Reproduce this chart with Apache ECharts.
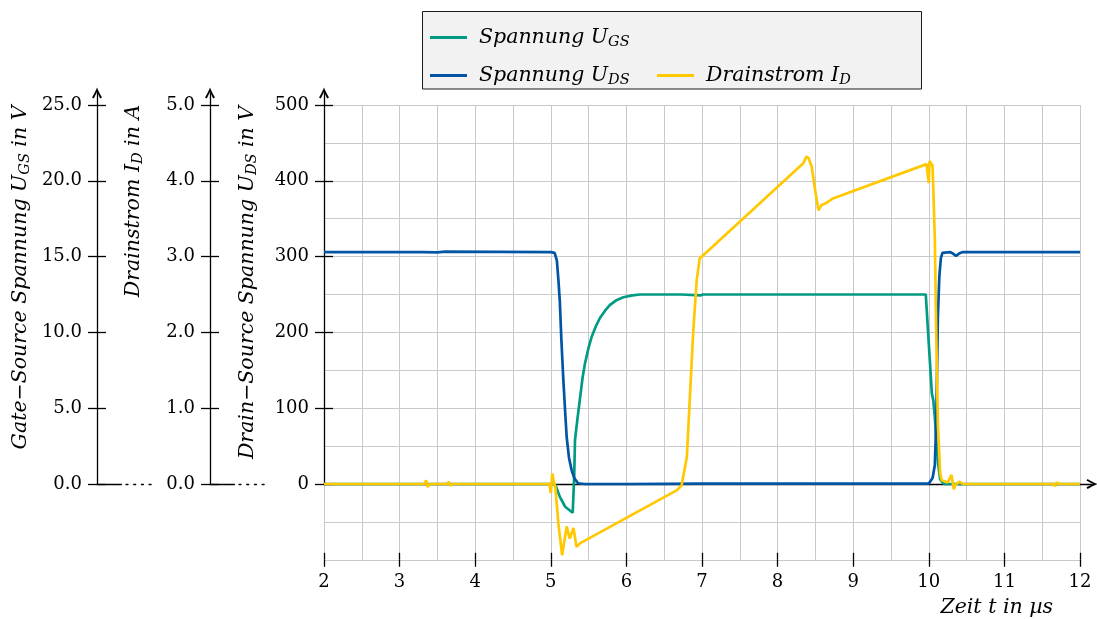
<!DOCTYPE html>
<html>
<head>
<meta charset="utf-8">
<script src="https://cdn.jsdelivr.net/npm/echarts@6/dist/echarts.min.js"></script>
<style>
  html, body { margin: 0; padding: 0; background: #fff; }
  #chart { width: 1097px; height: 619px; }
</style>
</head>
<body>
<div id="chart"></div>
<script>
// Switching transient of a MOSFET: time in µs
// Gate-source voltage U_GS in V
const ugs = [
  [2, 0], [3.35, 0], [3.37, 0.06], [3.4, 0], [3.64, 0], [3.66, 0.05], [3.68, 0], [5.0, 0],
  [5.06, -0.05], [5.12, -0.85], [5.19, -1.5], [5.24, -1.7], [5.29, -1.9], [5.31, 0.6],
  [5.32, 2.9], [5.35, 4.2], [5.39, 5.8], [5.42, 7.0], [5.45, 7.9], [5.5, 9.0], [5.54, 9.7],
  [5.6, 10.45], [5.65, 10.95], [5.72, 11.45], [5.78, 11.8], [5.86, 12.1], [5.96, 12.32],
  [6.08, 12.44], [6.18, 12.5], [6.68, 12.5], [6.7, 12.56], [6.73, 12.5], [6.98, 12.44],
  [7.01, 12.5], [8.38, 12.5], [8.4, 12.4], [8.42, 12.5], [8.62, 12.5], [8.64, 12.56],
  [8.66, 12.5], [9.96, 12.5], [10.04, 6.0], [10.06, 5.5], [10.08, 4.4], [10.12, 1.5],
  [10.15, 0.3], [10.2, 0], [11.66, 0], [11.68, 0.05], [11.7, 0], [12, 0]
];
// Drain-source voltage U_DS in V
const uds = [
  [2, 306], [3.3, 306], [3.5, 305.5], [3.6, 306.5], [5.0, 306], [5.05, 305], [5.08, 295],
  [5.1, 270], [5.12, 240], [5.14, 190], [5.166, 137], [5.19, 95], [5.21, 62], [5.24, 35],
  [5.276, 18], [5.31, 8], [5.36, 1], [5.45, 0], [6, 0], [7, 0.5], [8, 0.5], [9, 0.5],
  [10.0, 0.5], [10.02, 2], [10.05, 8], [10.08, 25], [10.1, 90], [10.12, 220], [10.14, 275],
  [10.16, 298], [10.18, 305], [10.28, 306], [10.32, 304], [10.36, 301], [10.4, 304],
  [10.45, 306], [12, 306]
];
// Drain current I_D in A
const id = [
  [2, 0], [3.33, 0], [3.35, 0.05], [3.37, -0.04], [3.4, 0], [3.63, 0], [3.65, 0.03],
  [3.67, -0.02], [3.7, 0], [4.98, 0], [5.0, -0.12], [5.02, 0.14], [5.04, 0.02],
  [5.06, -0.04], [5.1, -0.52], [5.15, -0.94], [5.21, -0.56], [5.25, -0.72], [5.3, -0.58],
  [5.34, -0.83], [5.39, -0.78], [6.67, -0.08], [6.73, -0.02], [6.8, 0.36], [6.84, 1.15],
  [6.885, 2.03], [6.93, 2.69], [6.97, 2.98], [7.02, 3.02], [7.04, 3.04], [8.34, 4.23],
  [8.36, 4.25], [8.38, 4.32], [8.41, 4.30], [8.45, 4.19], [8.49, 3.92], [8.54, 3.61],
  [8.56, 3.62], [8.58, 3.68], [8.6, 3.66], [8.63, 3.70], [8.74, 3.77], [9.97, 4.22],
  [9.99, 4.24], [10.0, 3.97], [10.01, 4.26], [10.03, 4.27], [10.05, 4.2], [10.06, 4.19],
  [10.08, 3.22], [10.1, 1.9], [10.12, 0.8], [10.15, 0.15], [10.17, 0.05], [10.25, 0.02],
  [10.3, 0.12], [10.33, -0.07], [10.36, 0], [10.41, 0.03], [10.45, 0], [11.65, 0],
  [11.67, -0.03], [11.69, 0.02], [11.72, 0], [12, 0]
];

// Axis ranges and tick values
const timeRange = [2, 12];
const udsRange = [-100, 500];
const ugsRange = [-5, 25];
const idRange = [-1, 5];
const udsTicks = [0, 100, 200, 300, 400, 500];
const ugsTicks = [0, 5, 10, 15, 20, 25];
const idTicks = [0, 1, 2, 3, 4, 5];

const C_UGS = '#009B82';
const C_UDS = '#0056A4';
const C_ID = '#FFC800';
const GRIDLINE = { color: '#c9c9c9', width: 1 };
const INK = '#000';
const FONT = 'DejaVu Serif';

// Vertical layout: zero line, top of plot, tip of the axis arrows
const Y_ZERO = 484, Y_TOP = 105, Y_ARROW = 93;
const stretch = (Y_ZERO - Y_ARROW) / (Y_ZERO - Y_TOP);

// Open arrow head, drawn pointing up
const arrow = 'path://M0,10 C2,6.5 4,3 5,0 C6,3 8,6.5 10,10 L8.2,11 C7,8.4 6,6.4 5,4.4 C4,6.4 3,8.4 1.8,11 Z';
const arrowSize = [12, 11];

const richName = {
  t: { fontFamily: FONT, fontStyle: 'italic', fontSize: 20.5, lineHeight: 24, color: INK },
  s: { fontFamily: FONT, fontStyle: 'italic', fontSize: 14.5, lineHeight: 13, verticalAlign: 'bottom', color: INK }
};
const richLegend = {
  t: { fontFamily: FONT, fontStyle: 'italic', fontSize: 20.5, lineHeight: 24, color: INK, padding: [0, 0, 0, 7] },
  s: { fontFamily: FONT, fontStyle: 'italic', fontSize: 14.5, lineHeight: 13, verticalAlign: 'bottom', color: INK }
};
const legendText = {
  'Spannung UGS': '{t|Spannung U}{s|GS}',
  'Spannung UDS': '{t|Spannung U}{s|DS}',
  'Drainstrom ID': '{t|Drainstrom I}{s|D}'
};

const tickLabel = { fontFamily: FONT, fontSize: 18, color: INK };

// One decorated y axis (line + arrow + outside ticks + labels) and its inside ticks
function scaleAxes(gridIndex, maxValue, ticks, fmt, name, namePad) {
  return [
    {
      gridIndex, type: 'value', position: 'left', min: 0, max: maxValue * stretch,
      axisLine: { show: true, onZero: false, symbol: ['none', arrow], symbolSize: arrowSize,
        lineStyle: { color: INK, width: 1.3 } },
      axisTick: { show: true, customValues: ticks, length: 9, lineStyle: { color: INK, width: 1.3 } },
      axisLabel: { show: true, customValues: ticks, margin: 15, formatter: fmt, ...tickLabel },
      splitLine: { show: false },
      name, nameLocation: 'middle', nameGap: 64,
      nameTextStyle: { rich: richName, padding: [0, 0, 0, namePad] }
    },
    {
      gridIndex, type: 'value', position: 'left', min: 0, max: maxValue * stretch,
      axisLine: { show: false },
      axisTick: { show: true, inside: true, customValues: ticks, length: 9, lineStyle: { color: INK, width: 1.3 } },
      axisLabel: { show: false },
      splitLine: { show: false }
    }
  ];
}

// Short baseline with a dotted continuation under the secondary scales
const stubDash = [24.5, 4.5, 2, 5.7, 2, 5.7, 2, 5.7, 2, 60];
function stubX(gridIndex, withArrow) {
  return {
    gridIndex, type: 'value', min: 0, max: 1, position: 'bottom',
    axisLine: withArrow
      ? { show: true, onZero: false, symbol: ['none', arrow], symbolSize: arrowSize, lineStyle: { color: INK, width: 1.3 } }
      : { show: true, onZero: false, lineStyle: { color: INK, width: 1.3, type: stubDash } },
    axisTick: { show: false }, axisLabel: { show: false }, splitLine: { show: false }
  };
}

const option = {
  animation: false,
  backgroundColor: '#fff',
  graphic: [{
    type: 'rect', z: 0,
    shape: { x: 422.5, y: 11.5, width: 499, height: 77.5 },
    style: { fill: '#f2f2f2', stroke: '#1a1a1a', lineWidth: 1 }
  }],
  legend: [
    { data: ['Spannung UGS'], left: 430, top: 27.5, padding: 0, icon: 'rect', itemWidth: 37, itemHeight: 3,
      formatter: n => legendText[n], textStyle: { rich: richLegend } },
    { data: ['Spannung UDS'], left: 430, top: 65.5, padding: 0, icon: 'rect', itemWidth: 37, itemHeight: 3,
      formatter: n => legendText[n], textStyle: { rich: richLegend } },
    { data: ['Drainstrom ID'], left: 657, top: 65.5, padding: 0, icon: 'rect', itemWidth: 37, itemHeight: 3,
      formatter: n => legendText[n], textStyle: { rich: richLegend } }
  ],
  grid: [
    { left: 324, right: 17, top: Y_TOP, bottom: 59.2 },
    { left: 324, right: 5, top: Y_ARROW, bottom: 619 - Y_ZERO },
    { left: 97, width: 54.6, top: Y_ARROW, bottom: 619 - Y_ZERO },
    { left: 210, width: 54.6, top: Y_ARROW, bottom: 619 - Y_ZERO }
  ],
  xAxis: [
    {
      gridIndex: 0, type: 'value', position: 'bottom', min: timeRange[0], max: timeRange[1], interval: 1,
      axisLine: { show: false, onZero: false },
      axisTick: { show: true, length: 7, lineStyle: { color: INK, width: 1.3 } },
      axisLabel: { show: true, margin: 14, ...tickLabel },
      splitLine: { show: true, lineStyle: GRIDLINE },
      minorTick: { show: false, splitNumber: 2 },
      minorSplitLine: { show: true, lineStyle: GRIDLINE },
      name: '{t|Zeit t in µs}', nameLocation: 'end', nameGap: -27,
      nameTextStyle: { rich: richName, align: 'right', verticalAlign: 'top', padding: [36, 0, 0, 0] }
    },
    {
      gridIndex: 0, type: 'value', position: 'bottom', min: timeRange[0], max: timeRange[1], interval: 1,
      axisLine: { show: false, onZero: false },
      axisTick: { show: true, inside: true, length: 7, lineStyle: { color: INK, width: 1.3 } },
      axisLabel: { show: false }, splitLine: { show: false }
    },
    stubX(1, true),
    stubX(2, false),
    stubX(3, false)
  ],
  yAxis: [
    {
      gridIndex: 0, type: 'value', min: udsRange[0], max: udsRange[1], interval: 100,
      axisLine: { show: false }, axisTick: { show: false }, axisLabel: { show: false },
      splitLine: { show: true, lineStyle: GRIDLINE },
      minorTick: { show: false, splitNumber: 2 },
      minorSplitLine: { show: true, lineStyle: GRIDLINE }
    },
    { gridIndex: 0, type: 'value', position: 'left', min: ugsRange[0], max: ugsRange[1], show: false },
    { gridIndex: 0, type: 'value', position: 'left', min: idRange[0], max: idRange[1], show: false },
    ...scaleAxes(1, 500, udsTicks, v => String(v),
      '{t|Drain−Source Spannung U}{s|DS}{t| in V}', 12),
    ...scaleAxes(2, 25, ugsTicks, v => v.toFixed(1),
      '{t|Gate−Source Spannung U}{s|GS}{t| in V}', 22),
    ...scaleAxes(3, 5, idTicks, v => v.toFixed(1),
      '{t|Drainstrom I}{s|D}{t| in A}', 175)
  ],
  series: [
    { name: 'Spannung UGS', type: 'line', xAxisIndex: 0, yAxisIndex: 1, data: ugs,
      symbol: 'none', lineStyle: { width: 2.7, color: C_UGS }, itemStyle: { color: C_UGS }, z: 3 },
    { name: 'Spannung UDS', type: 'line', xAxisIndex: 0, yAxisIndex: 0, data: uds,
      symbol: 'none', lineStyle: { width: 2.7, color: C_UDS }, itemStyle: { color: C_UDS }, z: 4 },
    { name: 'Drainstrom ID', type: 'line', xAxisIndex: 0, yAxisIndex: 2, data: id,
      symbol: 'none', lineStyle: { width: 2.7, color: C_ID }, itemStyle: { color: C_ID }, z: 5 }
  ]
};

const chart = echarts.init(document.getElementById('chart'), null, { renderer: 'canvas' });
chart.setOption(option);
</script>
</body>
</html>
